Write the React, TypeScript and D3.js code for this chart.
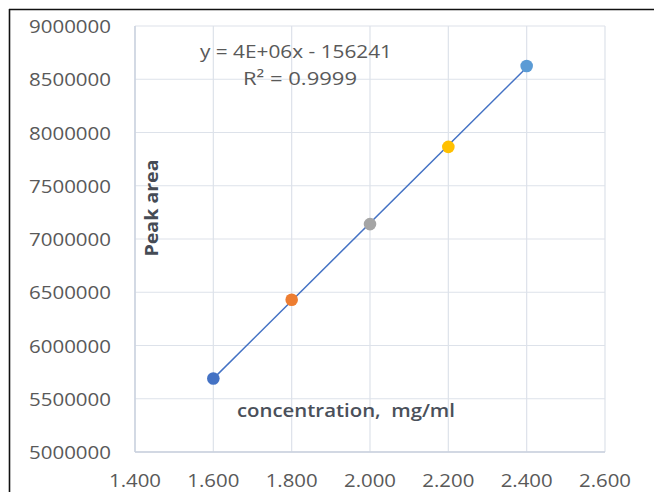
import * as React from 'react';
import * as d3 from 'd3';

const width = 654;
const height = 492;

// calibration points
const concentrations = [1.6, 1.8, 2.0, 2.2, 2.4];
const peakAreas = [5690000, 6430000, 7140000, 7865000, 8625000];

const xTicks = [1.4, 1.6, 1.8, 2.0, 2.2, 2.4, 2.6];
const yTicks = [5000000, 5500000, 6000000, 6500000, 7000000, 7500000, 8000000, 8500000, 9000000];

const equationLabel = 'y = 4E+06x - 156241';
const r2Label = 'R² = 0.9999';
const xTitle = 'concentration,  mg/ml';
const yTitle = 'Peak area';

const pointColors = ['#4472C4', '#ED7D31', '#A5A5A5', '#FFC000', '#5B9BD5'];

const plot = {left: 135, top: 26, right: 605, bottom: 452};
const font = '"Open Sans", "Liberation Sans", sans-serif';

const App = () => {
  const x = d3.scaleLinear().domain([1.4, 2.6]).range([plot.left, plot.right]);
  const y = d3.scaleLinear().domain([5000000, 9000000]).range([plot.bottom, plot.top]);
  const fmtX = d3.format('.3f');
  const fmtY = d3.format('d');

  // least squares trendline over the points
  const n = concentrations.length;
  const mx = d3.mean(concentrations)!;
  const my = d3.mean(peakAreas)!;
  const slope = d3.sum(concentrations, (c, i) => (c - mx) * (peakAreas[i] - my)) /
    d3.sum(concentrations, c => (c - mx) ** 2);
  const intercept = my - slope * mx;
  const trend = d3.line<number>().x(d => x(d)).y(d => y(slope * d + intercept))([concentrations[0], concentrations[n - 1]]);

  return (
    <svg width={width} height={height} style={{position: 'absolute', left: 0, top: 0, background: '#fff'}}>
      <rect x={0} y={0} width={width} height={height} fill="#fff"/>
      {/* frame of the pasted picture */}
      <line x1={9} x2={width} y1={9.5} y2={9.5} stroke="#111" strokeWidth={1.6}/>
      <line x1={9.5} x2={9.5} y1={9} y2={height} stroke="#111" strokeWidth={1.6}/>

      <g stroke="#dde2ea" strokeWidth={1.2}>
        {xTicks.map(t => <line key={'gx' + t} x1={x(t)} x2={x(t)} y1={plot.top} y2={plot.bottom}/>)}
        {yTicks.map(t => <line key={'gy' + t} x1={plot.left} x2={plot.right} y1={y(t)} y2={y(t)}/>)}
      </g>
      <line x1={plot.left} x2={plot.left} y1={plot.top} y2={plot.bottom} stroke="#c9d1de" strokeWidth={1.4}/>
      <line x1={plot.left} x2={plot.right} y1={plot.bottom} y2={plot.bottom} stroke="#c9d1de" strokeWidth={1.4}/>

      <g fontFamily={font} fontSize={19} fill="#595959">
        {yTicks.map(t => (
          <text key={'ty' + t} x={111} y={y(t)} textAnchor="end" dominantBaseline="central"
            textLength={82} lengthAdjust="spacingAndGlyphs">{fmtY(t)}</text>
        ))}
        {xTicks.map(t => (
          <text key={'tx' + t} x={x(t)} y={487} textAnchor="middle"
            textLength={52} lengthAdjust="spacingAndGlyphs">{fmtX(t)}</text>
        ))}
      </g>

      <path d={trend ?? ''} fill="none" stroke="#4472C4" strokeWidth={1.5}/>
      {concentrations.map((c, i) => (
        <circle key={c} cx={x(c)} cy={y(peakAreas[i])} r={6.3} fill={pointColors[i]}/>
      ))}

      <g fontFamily={font} fontSize={18.5} fill="#595959" textAnchor="middle">
        <text x={296} y={58} textLength={192} lengthAdjust="spacingAndGlyphs">{equationLabel}</text>
        <text x={300} y={85} textLength={114} lengthAdjust="spacingAndGlyphs">{r2Label}</text>
      </g>

      <text x={346} y={417} textAnchor="middle" fontFamily={font} fontSize={18.5} fontWeight={600}
        fill="#4a505a" style={{whiteSpace: 'pre'}} textLength={218} lengthAdjust="spacingAndGlyphs">{xTitle}</text>
      <text transform="translate(158,208) rotate(-90)" textAnchor="middle" fontFamily={font}
        fontSize={17} fontWeight="bold" fill="#454b55" textLength={97} lengthAdjust="spacingAndGlyphs">{yTitle}</text>
    </svg>
  );
};

export default App;
